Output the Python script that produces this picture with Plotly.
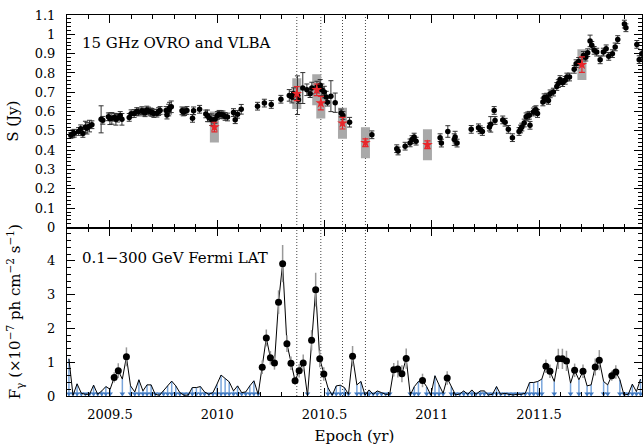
import plotly.graph_objects as go

# ---------------- 15 GHz OVRO light curve (Jy) ----------------
ovro_t = [2009.318, 2009.327, 2009.334, 2009.354, 2009.364, 2009.374, 2009.386, 2009.393, 2009.405, 2009.416,
          2009.459, 2009.467, 2009.493, 2009.500, 2009.509, 2009.521, 2009.528, 2009.535, 2009.548, 2009.556,
          2009.590, 2009.599, 2009.613, 2009.625, 2009.633, 2009.649, 2009.657, 2009.664, 2009.672, 2009.680,
          2009.690, 2009.696, 2009.705, 2009.719, 2009.727, 2009.734, 2009.762, 2009.766, 2009.774, 2009.778,
          2009.786, 2009.836, 2009.842, 2009.848, 2009.859, 2009.885, 2009.890, 2009.918, 2009.947, 2009.955,
          2009.962, 2009.975, 2009.990, 2010.001, 2010.009, 2010.018, 2010.027, 2010.037, 2010.048, 2010.076,
          2010.084, 2010.095, 2010.112, 2010.188, 2010.220, 2010.252, 2010.297, 2010.336, 2010.348, 2010.356,
          2010.374, 2010.379, 2010.399, 2010.418, 2010.433, 2010.441, 2010.465, 2010.480, 2010.488, 2010.499,
          2010.508, 2010.514, 2010.530, 2010.550, 2010.578, 2010.586, 2010.617, 2010.721, 2010.837, 2010.843,
          2010.876, 2010.899, 2010.908, 2010.918, 2010.927, 2011.039, 2011.045, 2011.075, 2011.105, 2011.109,
          2011.118, 2011.184, 2011.218, 2011.226, 2011.236, 2011.269, 2011.275, 2011.291, 2011.295, 2011.331,
          2011.342, 2011.357, 2011.376, 2011.407, 2011.414, 2011.420, 2011.431, 2011.440, 2011.448, 2011.455,
          2011.458, 2011.474, 2011.480, 2011.486, 2011.493, 2011.518, 2011.524, 2011.530, 2011.536, 2011.544,
          2011.552, 2011.567, 2011.583, 2011.590, 2011.598, 2011.610, 2011.622, 2011.630, 2011.642, 2011.664,
          2011.673, 2011.685, 2011.707, 2011.718, 2011.727, 2011.738, 2011.746, 2011.757, 2011.769, 2011.785,
          2011.800, 2011.813, 2011.825, 2011.842, 2011.855, 2011.867, 2011.898, 2011.905, 2011.956, 2011.967,
          2011.979]
ovro_s = [0.477, 0.485, 0.488, 0.497, 0.511, 0.487, 0.520, 0.514, 0.525, 0.532,
          0.560, 0.555, 0.573, 0.563, 0.565, 0.571, 0.560, 0.566, 0.580, 0.560,
          0.570, 0.589, 0.590, 0.600, 0.598, 0.605, 0.598, 0.594, 0.608, 0.603,
          0.598, 0.596, 0.590, 0.592, 0.600, 0.606, 0.606, 0.582, 0.608, 0.618,
          0.625, 0.604, 0.598, 0.600, 0.606, 0.565, 0.604, 0.612, 0.588, 0.578,
          0.568, 0.558, 0.560, 0.580, 0.586, 0.585, 0.583, 0.575, 0.572, 0.595,
          0.558, 0.586, 0.612, 0.628, 0.644, 0.637, 0.664, 0.684, 0.675, 0.693,
          0.685, 0.662, 0.722, 0.713, 0.693, 0.722, 0.727, 0.736, 0.713, 0.701,
          0.675, 0.649, 0.680, 0.646, 0.593, 0.580, 0.545, 0.480, 0.408, 0.396,
          0.421, 0.438, 0.455, 0.468, 0.447, 0.465, 0.437, 0.497, 0.455, 0.468,
          0.437, 0.508, 0.516, 0.506, 0.497, 0.520, 0.534, 0.606, 0.554, 0.557,
          0.545, 0.508, 0.465, 0.497, 0.510, 0.520, 0.541, 0.573, 0.578, 0.581,
          0.529, 0.598, 0.605, 0.610, 0.590, 0.650, 0.672, 0.665, 0.675, 0.658,
          0.692, 0.701, 0.730, 0.745, 0.766, 0.750, 0.762, 0.779, 0.779, 0.819,
          0.848, 0.860, 0.891, 0.882, 0.905, 0.966, 0.943, 0.917, 0.908, 0.868,
          0.908, 0.925, 0.886, 0.900, 0.935, 0.973, 1.053, 1.034, 0.948, 0.869,
          0.900]
ovro_e = [0.015, 0.02, 0.02, 0.02, 0.02, 0.02, 0.03, 0.03, 0.03, 0.02,
          0.07, 0.02, 0.02, 0.03, 0.03, 0.02, 0.03, 0.02, 0.02, 0.03,
          0.02, 0.02, 0.02, 0.02, 0.02, 0.02, 0.02, 0.02, 0.02, 0.02,
          0.02, 0.02, 0.02, 0.02, 0.02, 0.02, 0.02, 0.02, 0.03, 0.03,
          0.03, 0.02, 0.02, 0.02, 0.02, 0.02, 0.02, 0.02, 0.02, 0.03,
          0.02, 0.03, 0.02, 0.02, 0.02, 0.02, 0.02, 0.02, 0.02, 0.02,
          0.02, 0.02, 0.025, 0.02, 0.02, 0.02, 0.02, 0.03, 0.03, 0.03,
          0.10, 0.02, 0.08, 0.03, 0.02, 0.03, 0.03, 0.03, 0.03, 0.03,
          0.03, 0.02, 0.08, 0.05, 0.02, 0.02, 0.025, 0.02, 0.02, 0.02,
          0.02, 0.02, 0.02, 0.02, 0.02, 0.02, 0.02, 0.03, 0.03, 0.03,
          0.02, 0.02, 0.02, 0.02, 0.02, 0.02, 0.04, 0.02, 0.02, 0.02,
          0.02, 0.02, 0.02, 0.02, 0.02, 0.02, 0.02, 0.02, 0.02, 0.02,
          0.02, 0.02, 0.02, 0.02, 0.02, 0.02, 0.02, 0.02, 0.02, 0.02,
          0.02, 0.02, 0.02, 0.02, 0.02, 0.02, 0.02, 0.02, 0.02, 0.02,
          0.02, 0.02, 0.02, 0.02, 0.02, 0.03, 0.02, 0.02, 0.02, 0.02,
          0.02, 0.02, 0.02, 0.02, 0.02, 0.02, 0.02, 0.02, 0.02, 0.02,
          0.02]

# ---------------- VLBA core flux (red stars with grey boxes) ----------------
vlba_t = [2009.987, 2010.371, 2010.464, 2010.483, 2010.584, 2010.691, 2010.980, 2011.700]
vlba_s = [0.520, 0.693, 0.713, 0.644, 0.540, 0.439, 0.428, 0.843]
vlba_e = [0.025, 0.036, 0.03, 0.035, 0.03, 0.02, 0.02, 0.04]
vlba_box = [0.08, 0.08, 0.08, 0.08, 0.08, 0.08, 0.08, 0.08]
ejection_t = [2010.371, 2010.483, 2010.584, 2010.691]

# ---------------- Fermi LAT weekly fluxes (1e-7 ph cm^-2 s^-1) ----------------
fermi_t = [2009.309, 2009.328, 2009.347, 2009.367, 2009.386, 2009.405, 2009.424, 2009.443, 2009.462, 2009.481,
           2009.501, 2009.520, 2009.539, 2009.558, 2009.577, 2009.596, 2009.616, 2009.635, 2009.654, 2009.673,
           2009.692, 2009.711, 2009.731, 2009.750, 2009.769, 2009.788, 2009.807, 2009.826, 2009.846, 2009.865,
           2009.884, 2009.903, 2009.922, 2009.941, 2009.961, 2009.980, 2009.999, 2010.018, 2010.037, 2010.056,
           2010.076, 2010.095, 2010.114, 2010.133, 2010.152, 2010.171, 2010.191, 2010.210, 2010.229, 2010.248,
           2010.267, 2010.286, 2010.305, 2010.325, 2010.344, 2010.363, 2010.382, 2010.401, 2010.421, 2010.440,
           2010.459, 2010.478, 2010.497, 2010.516, 2010.536, 2010.555, 2010.574, 2010.593, 2010.612, 2010.631,
           2010.651, 2010.670, 2010.689, 2010.708, 2010.727, 2010.746, 2010.766, 2010.785, 2010.804, 2010.823,
           2010.842, 2010.861, 2010.881, 2010.900, 2010.919, 2010.938, 2010.957, 2010.976, 2010.996, 2011.015,
           2011.034, 2011.053, 2011.072, 2011.091, 2011.111, 2011.130, 2011.149, 2011.168, 2011.187, 2011.206,
           2011.226, 2011.245, 2011.264, 2011.283, 2011.302, 2011.321, 2011.341, 2011.360, 2011.379, 2011.398,
           2011.417, 2011.436, 2011.456, 2011.475, 2011.494, 2011.513, 2011.532, 2011.551, 2011.571, 2011.590,
           2011.609, 2011.628, 2011.647, 2011.666, 2011.686, 2011.705, 2011.724, 2011.743, 2011.762, 2011.781,
           2011.801, 2011.820, 2011.839, 2011.858, 2011.877, 2011.896, 2011.916, 2011.935, 2011.954, 2011.973]
fermi_f = [1.10, 0.02, 0.36, 0.08, 0.05, 0.05, 0.32, 0.05, 0.15, 0.28,
           0.20, 0.55, 0.75, 0.50, 1.16, 0.30, 0.12, 0.48, 0.15, 0.33,
           0.33, 0.05, 0.02, 0.15, 0.30, 0.44, 0.30, 0.10, 0.02, 0.03,
           0.25, 0.25, 0.28, 0.12, 0.05, 0.10, 0.35, 0.62, 0.52, 0.42,
           0.15, 0.30, 0.10, 0.12, 0.30, 0.45, 0.05, 0.85, 1.72, 1.13,
           0.98, 2.78, 3.92, 1.55, 0.97, 0.45, 0.75, 0.98, 0.00, 1.65,
           3.15, 1.10, 0.65, 0.25, 0.02, 0.30, 0.32, 0.25, 0.05, 1.18,
           0.33, 0.43, 0.03, 0.18, 0.05, 0.15, 0.10, 0.05, 0.05, 0.78,
           0.80, 0.66, 1.11, 0.03, 0.28, 0.43, 0.46, 0.28, 0.03, 0.60,
           0.33, 0.08, 0.53, 0.28, 0.03, 0.06, 0.15, 0.05, 0.18, 0.05,
           0.15, 0.15, 0.03, 0.05, 0.28, 0.05, 0.08, 0.05, 0.03, 0.05,
           0.05, 0.08, 0.40, 0.40, 0.43, 0.50, 0.88, 0.73, 0.43, 1.10,
           1.10, 1.04, 0.38, 0.76, 0.48, 0.73, 0.30, 0.33, 0.86, 1.06,
           0.43, 0.33, 0.60, 0.71, 0.48, 0.03, 0.05, 0.35, 0.13, 0.50]
# 1 = detection (dot with error bar), 0 = upper limit (arrow)
fermi_det = [0, 0, 0, 0, 0, 0, 0, 0, 0, 0,
             0, 1, 1, 0, 1, 0, 0, 0, 0, 0,
             0, 0, 0, 0, 0, 0, 0, 0, 0, 0,
             0, 0, 0, 0, 0, 0, 0, 0, 0, 0,
             0, 0, 0, 0, 0, 0, 0, 1, 1, 1,
             1, 1, 1, 1, 1, 1, 1, 1, 0, 1,
             1, 1, 1, 0, 0, 0, 0, 0, 0, 1,
             0, 0, 0, 0, 0, 0, 0, 0, 0, 1,
             1, 1, 1, 0, 0, 0, 1, 0, 0, 0,
             0, 0, 1, 0, 0, 0, 0, 0, 0, 0,
             0, 0, 0, 0, 0, 0, 0, 0, 0, 0,
             0, 0, 0, 0, 0, 0, 1, 1, 0, 1,
             1, 1, 0, 1, 0, 1, 0, 0, 1, 1,
             0, 0, 1, 1, 0, 0, 0, 0, 0, 0]
fermi_e = [0, 0, 0, 0, 0, 0, 0, 0, 0, 0,
           0, 0.15, 0.22, 0, 0.28, 0, 0, 0, 0, 0,
           0, 0, 0, 0, 0, 0, 0, 0, 0, 0,
           0, 0, 0, 0, 0, 0, 0, 0, 0, 0,
           0, 0, 0, 0, 0, 0, 0, 0.2, 0.25, 0.2,
           0.2, 0.35, 0.55, 0.25, 0.2, 0.12, 0.2, 0.25, 0, 0.3,
           0.5, 0.25, 0.2, 0, 0, 0, 0, 0, 0, 0.3,
           0, 0, 0, 0, 0, 0, 0, 0, 0, 0.2,
           0.25, 0.25, 0.3, 0, 0, 0, 0.2, 0, 0, 0,
           0, 0, 0.2, 0, 0, 0, 0, 0, 0, 0,
           0, 0, 0, 0, 0, 0, 0, 0, 0, 0,
           0, 0, 0, 0, 0, 0, 0.2, 0.2, 0, 0.3,
           0.3, 0.3, 0, 0.2, 0, 0.2, 0, 0, 0.25, 0.3,
           0, 0, 0.15, 0.2, 0, 0, 0, 0, 0, 0]

# ---------------- figure ----------------
FONT = "DejaVu Serif"
fig = go.Figure()

# grey boxes around VLBA points
for t, s, h in zip(vlba_t, vlba_s, vlba_box):
    fig.add_shape(type="rect", xref="x", yref="y", x0=t - 0.021, x1=t + 0.021,
                  y0=s - h, y1=s + h, fillcolor="#a9a9a9", line_width=0, layer="below")
# dotted vertical lines spanning both panels
for t in ejection_t:
    fig.add_shape(type="line", xref="x", yref="paper", x0=t, x1=t, y0=0, y1=1,
                  line=dict(color="#444444", width=1, dash="1px,2px"), layer="below")

fig.add_trace(go.Scatter(
    x=ovro_t, y=ovro_s, mode="markers", xaxis="x", yaxis="y",
    marker=dict(color="black", size=5.5),
    error_y=dict(type="data", array=ovro_e, color="#333333", thickness=1, width=2.5),
    showlegend=False))
fig.add_trace(go.Scatter(
    x=vlba_t, y=vlba_s, mode="markers", xaxis="x", yaxis="y",
    marker=dict(color="#e8262b", size=8, symbol="star"),
    error_y=dict(type="data", array=vlba_e, color="#e8262b", thickness=1.2, width=3),
    showlegend=False))

# upper limits: blue lines down to zero + arrowheads
ul_x, ul_y, ah_x, ah_y = [], [], [], []
for t, f, d in zip(fermi_t, fermi_f, fermi_det):
    if not d:
        ul_x += [t, t, None]
        ul_y += [f, 0, None]
        ah_x.append(t)
        ah_y.append(0.07)
fig.add_trace(go.Scatter(x=ul_x, y=ul_y, mode="lines", xaxis="x2", yaxis="y2",
                         line=dict(color="#7aa6dc", width=1.5), showlegend=False))
fig.add_trace(go.Scatter(x=ah_x, y=ah_y, mode="markers", xaxis="x2", yaxis="y2",
                         marker=dict(color="#3f78c0", size=5, symbol="triangle-down"),
                         showlegend=False))
fig.add_trace(go.Scatter(x=fermi_t, y=fermi_f, mode="lines", xaxis="x2", yaxis="y2",
                         line=dict(color="black", width=1), showlegend=False))
det_x = [t for t, d in zip(fermi_t, fermi_det) if d]
det_y = [f for f, d in zip(fermi_f, fermi_det) if d]
det_e = [e for e, d in zip(fermi_e, fermi_det) if d]
fig.add_trace(go.Scatter(x=det_x, y=det_y, mode="markers", xaxis="x2", yaxis="y2",
                         marker=dict(color="black", size=7),
                         error_y=dict(type="data", array=det_e, color="#999999", thickness=1.5, width=0),
                         showlegend=False))

split = (396 - 227.5) / 381.0
common_x = dict(range=[2009.3, 2011.98], tick0=2009.5, dtick=0.5, ticks="inside", ticklen=8,
                tickcolor="black", showline=True, linecolor="black", linewidth=1, mirror="allticks",
                showgrid=False, zeroline=False, tickformat="~g",
                minor=dict(dtick=0.1, tick0=2009.5, ticks="inside", ticklen=4, tickcolor="black", showgrid=False))
fig.update_layout(
    width=644, height=445,
    margin=dict(l=67, r=2, t=15, b=49),
    paper_bgcolor="white", plot_bgcolor="white",
    font=dict(family=FONT, size=13, color="black"),
    xaxis=dict(**common_x, domain=[0, 1], anchor="y", showticklabels=False, matches="x2"),
    xaxis2=dict(**common_x, domain=[0, 1], anchor="y2", showticklabels=True,
                ticklabelstandoff=6,
                title=dict(text="Epoch (yr)", font=dict(size=15), standoff=10)),
    yaxis=dict(domain=[split, 1], range=[0, 1.1001], dtick=0.1, tick0=0, ticks="inside", ticklen=8,
               tickcolor="black", showline=True, linecolor="black", mirror="allticks",
               showgrid=False, zeroline=False, ticklabelstandoff=8,
               minor=dict(dtick=0.02, tick0=0, ticks="inside", ticklen=4, tickcolor="black", showgrid=False),
               title=dict(text="S (Jy)", font=dict(size=15), standoff=12)),
    yaxis2=dict(domain=[0, split], range=[0, 4.99], dtick=1, tick0=0, ticks="inside", ticklen=8,
                tickcolor="black", showline=True, linecolor="black", mirror="allticks",
                showgrid=False, zeroline=False, ticklabelstandoff=8,
                minor=dict(dtick=0.2, tick0=0, ticks="inside", ticklen=4, tickcolor="black", showgrid=False),
                title=dict(text="F<sub>γ</sub> (×10<sup>−7</sup> ph cm<sup>−2</sup> s<sup>−1</sup>)",
                           font=dict(size=15), standoff=22)),
    annotations=[
        dict(text="15 GHz OVRO and VLBA", xref="x domain", yref="y domain", x=0.023, y=0.868,
             xanchor="left", yanchor="middle", showarrow=False, font=dict(size=15)),
        dict(text="0.1−300 GeV Fermi LAT", xref="x2 domain", yref="y2 domain", x=0.023, y=0.82,
             xanchor="left", yanchor="middle", showarrow=False, font=dict(size=15)),
    ],
)

fig.write_html("out.html")
